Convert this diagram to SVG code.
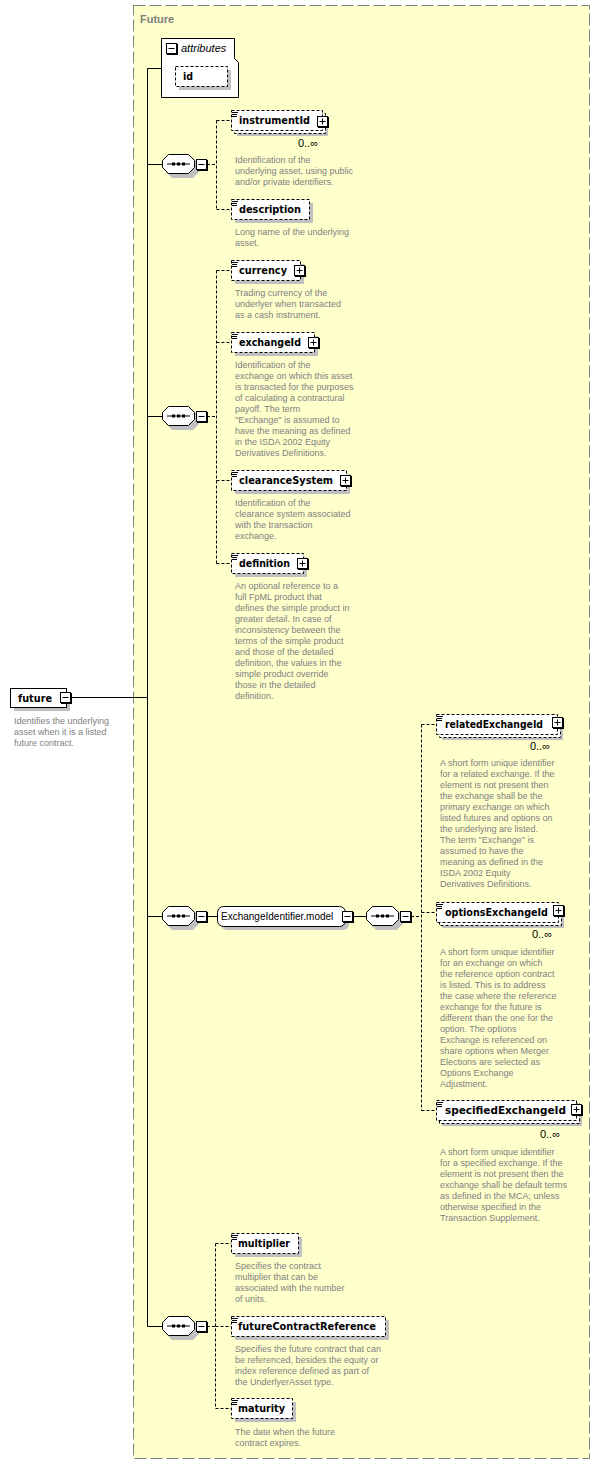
<svg xmlns="http://www.w3.org/2000/svg" width="600" height="1465" viewBox="0 0 600 1465">
<style>
.lbl{font-family:"DejaVu Sans",sans-serif;font-weight:bold;font-size:10px;fill:#000}
.desc{font-family:"Liberation Sans",Arial,sans-serif;font-size:9px;fill:#808080}
.occ{font-family:"Liberation Sans",Arial,sans-serif;font-size:11px;text-anchor:end;fill:#000}
.el{fill:#fff;stroke:#000;stroke-dasharray:3 2}
.sh{fill:#c0c0c0}
.solid{fill:#fff;stroke:#000}
.ln{fill:none;stroke:#000}
.dl{fill:none;stroke:#000;stroke-dasharray:3 2}
.ic{fill:none;stroke:#000}
</style>
<defs>
<g id="minus"><rect x="1" y="1" width="11" height="11" fill="#000"/><rect x="0.5" y="0.5" width="10" height="10" fill="#fff" stroke="#000"/><path d="M2.5 5.5h6" stroke="#000"/></g>
<g id="plus"><rect x="1" y="1" width="11" height="11" fill="#000"/><rect x="0.5" y="0.5" width="10" height="10" fill="#fff" stroke="#000"/><path d="M2.5 5.5h6M5.5 2.5v6" stroke="#000"/></g>
<g id="seq"><path d="M10,4 H31 L37,10 V18 L31,24 H10 L4,18 V10 Z" class="sh"/><path d="M6.5,0.5 H26.5 L32.5,6.5 V13.5 L26.5,19.5 H6.5 L0.5,13.5 V6.5 Z" fill="#fff" stroke="#000"/><path d="M5,10 H28" stroke="#000"/><rect x="10" y="8.5" width="3" height="3" fill="#000"/><rect x="15" y="8.5" width="3" height="3" fill="#000"/><rect x="20" y="8.5" width="3" height="3" fill="#000"/></g>
<path id="icon" d="M1 2.5h6M1 4.5h5M1 6.5h5"/>
</defs>

<g id="Future">
<rect x="133.5" y="5.5" width="456" height="1453" fill="#ffffcc" stroke="#808080" stroke-dasharray="12 4"/>
<text x="140" y="23" font-family="Liberation Sans,Arial,sans-serif" font-weight="bold" font-size="11" fill="#808080">Future</text>
</g>

<g id="connectors">
<path class="ln" d="M71,697.5 H147.5 M147.5,68.5 V1326.5 M147.5,68.5 H161 M147.5,164.5 H162 M147.5,416.5 H162 M147.5,916.5 H162 M147.5,1326.5 H162 M207,916.5 H217 M352,916.5 H366"/>
<path class="dl" d="M207,164.5 H216.5 M216.5,120.5 V209.5 M216.5,120.5 H231 M216.5,209.5 H231"/>
<path class="dl" d="M207,416.5 H216.5 M216.5,270.5 V563.5 M216.5,270.5 H231 M216.5,342.5 H231 M216.5,480.5 H231 M216.5,563.5 H231"/>
<path class="dl" d="M411,916.5 H421.5 M421.5,724.5 V1110.5 M421.5,724.5 H436 M421.5,912.5 H436 M421.5,1110.5 H436"/>
<path class="dl" d="M207,1326.5 H215.5 M215.5,1243.5 V1408.5 M215.5,1243.5 H231 M215.5,1326.5 H231 M215.5,1408.5 H231"/>
</g>

<g id="future">
<rect x="14" y="692" width="56" height="19" class="sh"/>
<rect x="10.5" y="688.5" width="56" height="19" class="solid"/>
<text x="18" y="702" class="lbl" textLength="34" lengthAdjust="spacingAndGlyphs">future</text>
<use href="#minus" x="60" y="692"/>
<text class="desc" x="14" y="724"><tspan x="14">Identifies the underlying</tspan><tspan x="14" dy="11">asset when it is a listed</tspan><tspan x="14" dy="11">future contract.</tspan></text>
</g>

<g id="attributes">
<path d="M161.5,38.5 H234.5 V58.5 L238.5,62.5 V97.5 H161.5 Z" class="solid"/>
<use href="#minus" x="166" y="43"/>
<text x="181" y="52" font-family="Liberation Sans,Arial,sans-serif" font-style="italic" font-size="11">attributes</text>
<rect x="179" y="70" width="52" height="20" class="sh"/>
<rect x="175.5" y="66.5" width="52" height="20" class="el"/>
<text x="183" y="80" class="lbl" textLength="10" lengthAdjust="spacingAndGlyphs">id</text>
</g>

<g id="sequence1"><use href="#seq" x="162" y="154"/><use href="#minus" x="196" y="159"/></g>
<g id="sequence2"><use href="#seq" x="162" y="406"/><use href="#minus" x="196" y="411"/></g>
<g id="sequence3"><use href="#seq" x="162" y="906"/><use href="#minus" x="196" y="911"/></g>
<g id="sequence3b"><use href="#seq" x="366" y="906"/><use href="#minus" x="400" y="911"/></g>
<g id="sequence4"><use href="#seq" x="162" y="1316"/><use href="#minus" x="196" y="1321"/></g>

<g id="ExchangeIdentifier.model">
<rect x="221" y="910" width="128" height="20" rx="6" class="sh"/>
<rect x="217.5" y="906.5" width="128" height="20" rx="6" class="solid"/>
<text x="221" y="920" font-family="Liberation Sans,Arial,sans-serif" font-size="10">ExchangeIdentifier.model</text>
<use href="#minus" x="342" y="911"/>
</g>

<g id="instrumentId">
<rect x="237" y="116" width="91" height="20" class="sh"/>
<rect x="234.5" y="113.5" width="91" height="20" class="el"/>
<rect x="231.5" y="110.5" width="91" height="20" class="el"/>
<use href="#icon" x="231" y="110" class="ic"/>
<text x="239" y="124" class="lbl" textLength="71" lengthAdjust="spacingAndGlyphs">instrumentId</text>
<use href="#plus" x="317" y="116"/>
<text x="318" y="147" class="occ">0..∞</text>
<text class="desc" x="235" y="163"><tspan x="235">Identification of the</tspan><tspan x="235" dy="11">underlying asset, using public</tspan><tspan x="235" dy="11">and/or private identifiers.</tspan></text>
</g>

<g id="description">
<rect x="235" y="203" width="78" height="20" class="sh"/>
<rect x="231.5" y="199.5" width="78" height="20" class="el"/>
<use href="#icon" x="231" y="199" class="ic"/>
<text x="239" y="213" class="lbl" textLength="62" lengthAdjust="spacingAndGlyphs">description</text>
<text class="desc" x="235" y="235"><tspan x="235">Long name of the underlying</tspan><tspan x="235" dy="11">asset.</tspan></text>
</g>

<g id="currency">
<rect x="235" y="264" width="69" height="20" class="sh"/>
<rect x="231.5" y="260.5" width="69" height="20" class="el"/>
<use href="#icon" x="231" y="260" class="ic"/>
<text x="239" y="274" class="lbl" textLength="48" lengthAdjust="spacingAndGlyphs">currency</text>
<use href="#plus" x="294" y="265"/>
<text class="desc" x="235" y="296"><tspan x="235">Trading currency of the</tspan><tspan x="235" dy="11">underlyer when transacted</tspan><tspan x="235" dy="11">as a cash instrument.</tspan></text>
</g>

<g id="exchangeId">
<rect x="235" y="336" width="83" height="20" class="sh"/>
<rect x="231.5" y="332.5" width="83" height="20" class="el"/>
<use href="#icon" x="231" y="332" class="ic"/>
<text x="239" y="346" class="lbl" textLength="62" lengthAdjust="spacingAndGlyphs">exchangeId</text>
<use href="#plus" x="308" y="337"/>
<text class="desc" x="235" y="368"><tspan x="235">Identification of the</tspan><tspan x="235" dy="11">exchange on which this asset</tspan><tspan x="235" dy="11">is transacted for the purposes</tspan><tspan x="235" dy="11">of calculating a contractural</tspan><tspan x="235" dy="11">payoff. The term</tspan><tspan x="235" dy="11">"Exchange" is assumed to</tspan><tspan x="235" dy="11">have the meaning as defined</tspan><tspan x="235" dy="11">in the ISDA 2002 Equity</tspan><tspan x="235" dy="11">Derivatives Definitions.</tspan></text>
</g>

<g id="clearanceSystem">
<rect x="235" y="474" width="115" height="20" class="sh"/>
<rect x="231.5" y="470.5" width="115" height="20" class="el"/>
<use href="#icon" x="231" y="470" class="ic"/>
<text x="239" y="484" class="lbl" textLength="94" lengthAdjust="spacingAndGlyphs">clearanceSystem</text>
<use href="#plus" x="340" y="475"/>
<text class="desc" x="235" y="506"><tspan x="235">Identification of the</tspan><tspan x="235" dy="11">clearance system associated</tspan><tspan x="235" dy="11">with the transaction</tspan><tspan x="235" dy="11">exchange.</tspan></text>
</g>

<g id="definition">
<rect x="235" y="557" width="72" height="20" class="sh"/>
<rect x="231.5" y="553.5" width="72" height="20" class="el"/>
<use href="#icon" x="231" y="553" class="ic"/>
<text x="239" y="567" class="lbl" textLength="51" lengthAdjust="spacingAndGlyphs">definition</text>
<use href="#plus" x="297" y="558"/>
<text class="desc" x="235" y="589"><tspan x="235">An optional reference to a</tspan><tspan x="235" dy="11">full FpML product that</tspan><tspan x="235" dy="11">defines the simple product in</tspan><tspan x="235" dy="11">greater detail. In case of</tspan><tspan x="235" dy="11">inconsistency between the</tspan><tspan x="235" dy="11">terms of the simple product</tspan><tspan x="235" dy="11">and those of the detailed</tspan><tspan x="235" dy="11">definition, the values in the</tspan><tspan x="235" dy="11">simple product override</tspan><tspan x="235" dy="11">those in the detailed</tspan><tspan x="235" dy="11">definition.</tspan></text>
</g>

<g id="relatedExchangeId">
<rect x="442" y="720" width="121" height="20" class="sh"/>
<rect x="439.5" y="717.5" width="121" height="20" class="el"/>
<rect x="436.5" y="714.5" width="121" height="20" class="el"/>
<use href="#icon" x="436" y="714" class="ic"/>
<text x="445" y="728" class="lbl" textLength="98" lengthAdjust="spacingAndGlyphs">relatedExchangeId</text>
<use href="#plus" x="552" y="717"/>
<text x="550" y="750" class="occ">0..∞</text>
<text class="desc" x="440" y="766"><tspan x="440">A short form unique identifier</tspan><tspan x="440" dy="11">for a related exchange. If the</tspan><tspan x="440" dy="11">element is not present then</tspan><tspan x="440" dy="11">the exchange shall be the</tspan><tspan x="440" dy="11">primary exchange on which</tspan><tspan x="440" dy="11">listed futures and options on</tspan><tspan x="440" dy="11">the underlying are listed.</tspan><tspan x="440" dy="11">The term "Exchange" is</tspan><tspan x="440" dy="11">assumed to have the</tspan><tspan x="440" dy="11">meaning as defined in the</tspan><tspan x="440" dy="11">ISDA 2002 Equity</tspan><tspan x="440" dy="11">Derivatives Definitions.</tspan></text>
</g>

<g id="optionsExchangeId">
<rect x="442" y="908" width="122" height="20" class="sh"/>
<rect x="439.5" y="905.5" width="122" height="20" class="el"/>
<rect x="436.5" y="902.5" width="122" height="20" class="el"/>
<use href="#icon" x="436" y="902" class="ic"/>
<text x="445" y="916" class="lbl" textLength="103" lengthAdjust="spacingAndGlyphs">optionsExchangeId</text>
<use href="#plus" x="553" y="905"/>
<text x="552" y="938" class="occ">0..∞</text>
<text class="desc" x="440" y="955"><tspan x="440">A short form unique identifier</tspan><tspan x="440" dy="11">for an exchange on which</tspan><tspan x="440" dy="11">the reference option contract</tspan><tspan x="440" dy="11">is listed. This is to address</tspan><tspan x="440" dy="11">the case where the reference</tspan><tspan x="440" dy="11">exchange for the future is</tspan><tspan x="440" dy="11">different than the one for the</tspan><tspan x="440" dy="11">option. The options</tspan><tspan x="440" dy="11">Exchange is referenced on</tspan><tspan x="440" dy="11">share options when Merger</tspan><tspan x="440" dy="11">Elections are selected as</tspan><tspan x="440" dy="11">Options Exchange</tspan><tspan x="440" dy="11">Adjustment.</tspan></text>
</g>

<g id="specifiedExchangeId">
<rect x="442" y="1106" width="140" height="20" class="sh"/>
<rect x="439.5" y="1103.5" width="140" height="20" class="el"/>
<rect x="436.5" y="1100.5" width="140" height="20" class="el"/>
<use href="#icon" x="436" y="1100" class="ic"/>
<text x="445" y="1114" class="lbl" textLength="121" lengthAdjust="spacingAndGlyphs">specifiedExchangeId</text>
<use href="#plus" x="571" y="1104"/>
<text x="560" y="1138" class="occ">0..∞</text>
<text class="desc" x="440" y="1155"><tspan x="440">A short form unique identifier</tspan><tspan x="440" dy="11">for a specified exchange. If the</tspan><tspan x="440" dy="11">element is not present then the</tspan><tspan x="440" dy="11">exchange shall be default terms</tspan><tspan x="440" dy="11">as defined in the MCA; unless</tspan><tspan x="440" dy="11">otherwise specified in the</tspan><tspan x="440" dy="11">Transaction Supplement.</tspan></text>
</g>

<g id="multiplier">
<rect x="235" y="1237" width="67" height="20" class="sh"/>
<rect x="231.5" y="1233.5" width="67" height="20" class="el"/>
<use href="#icon" x="231" y="1233" class="ic"/>
<text x="238" y="1247" class="lbl" textLength="52" lengthAdjust="spacingAndGlyphs">multiplier</text>
<text class="desc" x="235" y="1269"><tspan x="235">Specifies the contract</tspan><tspan x="235" dy="11">multiplier that can be</tspan><tspan x="235" dy="11">associated with the number</tspan><tspan x="235" dy="11">of units.</tspan></text>
</g>

<g id="futureContractReference">
<rect x="235" y="1320" width="154" height="20" class="sh"/>
<rect x="231.5" y="1316.5" width="154" height="20" class="el"/>
<use href="#icon" x="231" y="1316" class="ic"/>
<text x="238" y="1330" class="lbl" textLength="138" lengthAdjust="spacingAndGlyphs">futureContractReference</text>
<text class="desc" x="235" y="1352"><tspan x="235">Specifies the future contract that can</tspan><tspan x="235" dy="11">be referenced, besides the equity or</tspan><tspan x="235" dy="11">index reference defined as part of</tspan><tspan x="235" dy="11">the UnderlyerAsset type.</tspan></text>
</g>

<g id="maturity">
<rect x="235" y="1402" width="61" height="20" class="sh"/>
<rect x="231.5" y="1398.5" width="61" height="20" class="el"/>
<use href="#icon" x="231" y="1398" class="ic"/>
<text x="238" y="1412" class="lbl" textLength="47" lengthAdjust="spacingAndGlyphs">maturity</text>
<text class="desc" x="235" y="1435"><tspan x="235">The date when the future</tspan><tspan x="235" dy="11">contract expires.</tspan></text>
</g>
</svg>
